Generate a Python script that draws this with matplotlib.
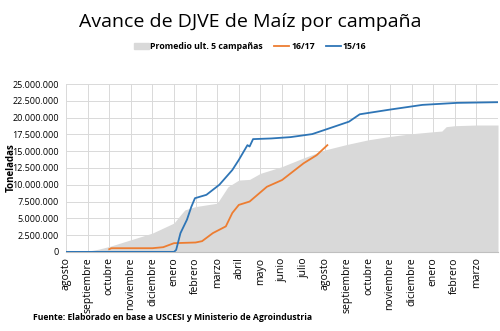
import matplotlib.pyplot as plt
import matplotlib.patches as mpatches
import matplotlib.lines as mlines
from matplotlib.ticker import FuncFormatter, MultipleLocator

plt.rcParams['font.family'] = ['Open Sans', 'DejaVu Sans']

meses = ['agosto', 'septiembre', 'octubre', 'noviembre', 'diciembre', 'enero',
         'febrero', 'marzo', 'abril', 'mayo', 'junio', 'julio', 'agosto',
         'septiembre', 'octubre', 'noviembre', 'diciembre', 'enero', 'febrero', 'marzo']

# promedio ult. 5 campañas (meses desde agosto, toneladas)
prom_x = [0, 1, 1.5, 2, 3, 4, 5, 5.3, 5.5, 6, 7, 7.5, 8, 8.5, 9, 10, 11, 12, 13, 14,
          15, 15.5, 16, 17, 17.4, 17.6, 18, 19, 20]
prom_y = [0, 0.1e6, 0.4e6, 0.8e6, 1.8e6, 2.8e6, 4.3e6, 5.5e6, 6.25e6, 6.75e6, 7.25e6,
          9.7e6, 10.7e6, 10.8e6, 11.7e6, 12.7e6, 14.0e6, 15.2e6, 16.0e6, 16.7e6,
          17.2e6, 17.4e6, 17.6e6, 17.9e6, 18.0e6, 18.65e6, 18.8e6, 18.9e6, 18.9e6]

# campaña 15/16
c1516_x = [0, 5.0, 5.1, 5.3, 5.6, 5.8, 5.97, 6.5, 7.1, 7.7, 8.0, 8.4, 8.5, 8.66,
           9.5, 10.4, 11.4, 12.0, 13.1, 13.6, 15.0, 16.5, 18.1, 20]
c1516_y = [0, 0, 0.3e6, 2.8e6, 4.8e6, 6.7e6, 8.0e6, 8.5e6, 10.0e6, 12.2e6, 13.7e6,
           15.9e6, 15.7e6, 16.8e6, 16.9e6, 17.1e6, 17.55e6, 18.2e6, 19.4e6, 20.5e6,
           21.2e6, 21.9e6, 22.2e6, 22.3e6]

# campaña 16/17
c1617_x = [2.0, 2.1, 3.0, 4.0, 4.5, 5.0, 6.0, 6.3, 6.8, 7.4, 7.7, 8.0, 8.5, 9.3,
           10.0, 11.0, 11.6, 12.1]
c1617_y = [0.4e6, 0.55e6, 0.55e6, 0.55e6, 0.7e6, 1.3e6, 1.4e6, 1.6e6, 2.8e6, 3.8e6,
           5.8e6, 7.0e6, 7.5e6, 9.7e6, 10.7e6, 13.2e6, 14.4e6, 15.9e6]

fig = plt.figure(figsize=(5, 3.31), dpi=100)
ax = fig.add_axes([0.132, 0.239, 0.864, 0.507])

ax.fill_between(prom_x, prom_y, 0, color='#d9d9d9', linewidth=0, zorder=1)
ax.plot(c1617_x, c1617_y, color='#ed7d31', linewidth=1.3, zorder=3)
ax.plot(c1516_x, c1516_y, color='#2e75b6', linewidth=1.3, zorder=3)

ax.set_xlim(0, 20)
ax.set_ylim(0, 25e6)
ax.yaxis.set_major_locator(MultipleLocator(2.5e6))
ax.yaxis.set_major_formatter(FuncFormatter(lambda v, p: f'{int(v):,}'.replace(',', '.')))
ax.set_xticks(range(len(meses)))
ax.set_xticklabels(meses, rotation=90, fontsize=7.5)
ax.tick_params(axis='y', labelsize=6.5, length=0, pad=5)
ax.tick_params(axis='x', length=0, pad=4)
ax.grid(True, color='#d9d9d9', linewidth=0.7, zorder=0)
ax.set_axisbelow(True)
for s in ['top', 'right', 'left']:
    ax.spines[s].set_visible(False)
ax.spines['bottom'].set_color('#bfbfbf')
ax.set_ylabel('Toneladas', fontsize=7, fontweight='bold')
ax.yaxis.set_label_coords(-0.115, 0.5)

fig.text(0.5, 0.934, 'Avance de DJVE de Maíz por campaña', ha='center', va='center',
         fontsize=14)

handles = [mpatches.Patch(color='#d9d9d9', label='Promedio ult. 5 campañas'),
           mlines.Line2D([], [], color='#ed7d31', linewidth=1.3, label='16/17'),
           mlines.Line2D([], [], color='#2e75b6', linewidth=1.3, label='15/16')]
leg = fig.legend(handles=handles, loc='center', bbox_to_anchor=(0.5, 0.86), ncol=3,
                 frameon=False, fontsize=6.3, handlelength=1.7, handletextpad=0.2,
                 columnspacing=1.3)
for t in leg.get_texts():
    t.set_fontweight('bold')

fig.text(0.066, 0.04, 'Fuente: Elaborado en base a USCESI y Ministerio de Agroindustria',
         fontsize=6.2, fontweight='bold', va='center')

fig.savefig('out.png', dpi=100)
